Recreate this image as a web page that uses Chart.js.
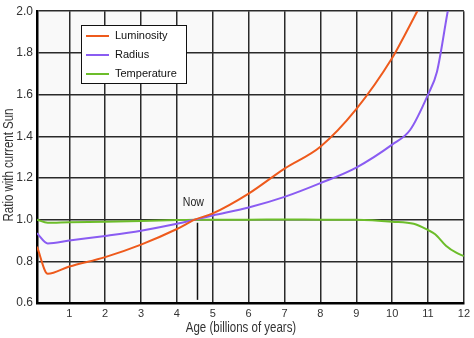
<!DOCTYPE html>
<html lang="en">
<head>
  <meta charset="UTF-8" />
  <title>Sun evolution</title>
  <script src="https://cdn.jsdelivr.net/npm/chart.js"></script>
  <style>
    * { margin: 0; padding: 0; box-sizing: border-box; }
    body { background: #fff; width: 474px; height: 338px; overflow: hidden; }
  </style>
</head>
<body>
  <canvas id="sunChart" width="474" height="338"></canvas>
  <script>
    // Luminosity, radius and temperature relative to today's Sun
    const lumAge   = [0.1, 0.4, 1, 2, 3, 4, 4.5, 5, 6, 7, 8, 9, 10, 10.35, 10.7, 11];
    const lumValue = [0.87, 0.74, 0.775, 0.82, 0.88, 0.955, 1.0, 1.03, 1.125, 1.245, 1.35, 1.53, 1.775, 1.885, 2.0, 2.1];

    const radAge   = [0.1, 0.4, 1, 2, 3, 4, 4.5, 5, 6, 7, 8, 9, 10, 10.5, 11, 11.25, 11.55, 11.65];
    const radValue = [0.935, 0.886, 0.9, 0.922, 0.947, 0.98, 1.0, 1.02, 1.058, 1.109, 1.175, 1.25, 1.36, 1.43, 1.6, 1.71, 2.0, 2.09];

    const tempAge   = [0.1, 0.4, 1, 2, 3, 4, 4.5, 5, 6, 7, 8, 9, 10, 10.6, 11, 11.2, 11.5, 11.8, 12];
    const tempValue = [1.0, 0.985, 0.988, 0.99, 0.994, 0.998, 1.0, 1.0, 1.0, 1.001, 1.0, 0.999, 0.99, 0.98, 0.95, 0.93, 0.875, 0.84, 0.825];

    const xTicks = [1, 2, 3, 4, 5, 6, 7, 8, 9, 10, 11, 12];
    const yTicks = [0.6, 0.8, 1.0, 1.2, 1.4, 1.6, 1.8, 2.0];

    const xTitle = 'Age (billions of years)';
    const yTitle = 'Ratio with current Sun';
    const nowAge = 4.57;

    const pts = (xs, ys) => xs.map((x, i) => ({ x: x, y: ys[i] }));

    const FONT = 'Liberation Sans, Arial, sans-serif';

    // squeezed text, like a narrow face
    function narrowText(ctx, text, x, y, angle, squeeze) {
      ctx.save();
      ctx.translate(x, y);
      ctx.rotate(angle);
      ctx.scale(squeeze, 1);
      ctx.fillText(text, 0, 0);
      ctx.restore();
    }

    // plot background, axis titles, "Now" marker and the boxed legend
    const decor = {
      id: 'decor',
      beforeDraw(chart) {
        const a = chart.chartArea, ctx = chart.ctx;
        ctx.save();
        ctx.fillStyle = '#f9f9f9';
        ctx.fillRect(a.left, a.top, a.right - a.left, a.bottom - a.top);
        ctx.restore();
      },
      afterDraw(chart) {
        const ctx = chart.ctx;
        ctx.save();
        ctx.fillStyle = '#333';
        ctx.font = '14px ' + FONT;
        ctx.textAlign = 'center';
        ctx.textBaseline = 'middle';
        narrowText(ctx, xTitle, 241, 328, 0, 0.82);
        narrowText(ctx, yTitle, 9, 165, -Math.PI / 2, 0.82);
        ctx.restore();
      },
      afterDatasetsDraw(chart) {
        const ctx = chart.ctx, xs = chart.scales.x, ys = chart.scales.y;
        ctx.save();
        // Now marker
        const nx = Math.round(xs.getPixelForValue(nowAge)) + 0.5;
        ctx.strokeStyle = '#111';
        ctx.lineWidth = 1.5;
        ctx.beginPath();
        ctx.moveTo(nx, ys.getPixelForValue(0.985));
        ctx.lineTo(nx, ys.getPixelForValue(0.615));
        ctx.stroke();
        ctx.fillStyle = '#222';
        ctx.font = '12px ' + FONT;
        ctx.textAlign = 'center';
        ctx.textBaseline = 'middle';
        narrowText(ctx, 'Now', xs.getPixelForValue(4.46), ys.getPixelForValue(1.08), 0, 0.88);

        // legend box
        const bx = 81.5, by = 25.5, bw = 105, bh = 58;
        ctx.fillStyle = '#fff';
        ctx.fillRect(bx, by, bw, bh);
        ctx.strokeStyle = '#111';
        ctx.lineWidth = 1;
        ctx.strokeRect(bx, by, bw, bh);
        ctx.textAlign = 'left';
        ctx.font = '11px ' + FONT;
        chart.data.datasets.forEach((ds, i) => {
          const ly = 36 + i * 19;
          ctx.strokeStyle = ds.borderColor;
          ctx.lineWidth = 2;
          ctx.beginPath();
          ctx.moveTo(86, ly);
          ctx.lineTo(109, ly);
          ctx.stroke();
          ctx.fillStyle = '#111';
          ctx.fillText(ds.label, 115, ly);
        });
        ctx.restore();
      }
    };

    new Chart(document.getElementById('sunChart'), {
      type: 'line',
      data: {
        datasets: [
          { label: 'Luminosity', data: pts(lumAge, lumValue), borderColor: '#ee5a1c' },
          { label: 'Radius', data: pts(radAge, radValue), borderColor: '#8a5cf2' },
          { label: 'Temperature', data: pts(tempAge, tempValue), borderColor: '#6cbd2a' }
        ]
      },
      options: {
        responsive: false,
        animation: false,
        layout: { padding: { top: 4, right: 7, left: 0, bottom: 0 } },
        elements: {
          point: { radius: 0 },
          line: { borderWidth: 2, tension: 0.3, cubicInterpolationMode: 'monotone' }
        },
        plugins: { legend: { display: false }, tooltip: { enabled: false } },
        scales: {
          x: {
            type: 'linear',
            min: 0.1,
            max: 12,
            afterBuildTicks: s => { s.ticks = xTicks.map(v => ({ value: v })); },
            afterFit: s => { s.height = 35; },
            grid: { color: '#2a2a2a', lineWidth: 1.5, drawTicks: false },
            border: { display: true, color: '#000', width: 2.5 },
            ticks: { color: '#333', font: { family: FONT, size: 11 }, padding: 4, maxRotation: 0 }
          },
          y: {
            min: 0.6,
            max: 2.0,
            afterBuildTicks: s => { s.ticks = yTicks.map(v => ({ value: v })); },
            afterFit: s => { s.width = 37; },
            grid: { color: '#2a2a2a', lineWidth: 1.5, drawTicks: false },
            border: { display: true, color: '#000', width: 2.5 },
            ticks: {
              color: '#333',
              font: { family: FONT, size: 12 },
              padding: 4,
              callback: v => v.toFixed(1)
            }
          }
        }
      },
      plugins: [decor]
    });
  </script>
</body>
</html>
